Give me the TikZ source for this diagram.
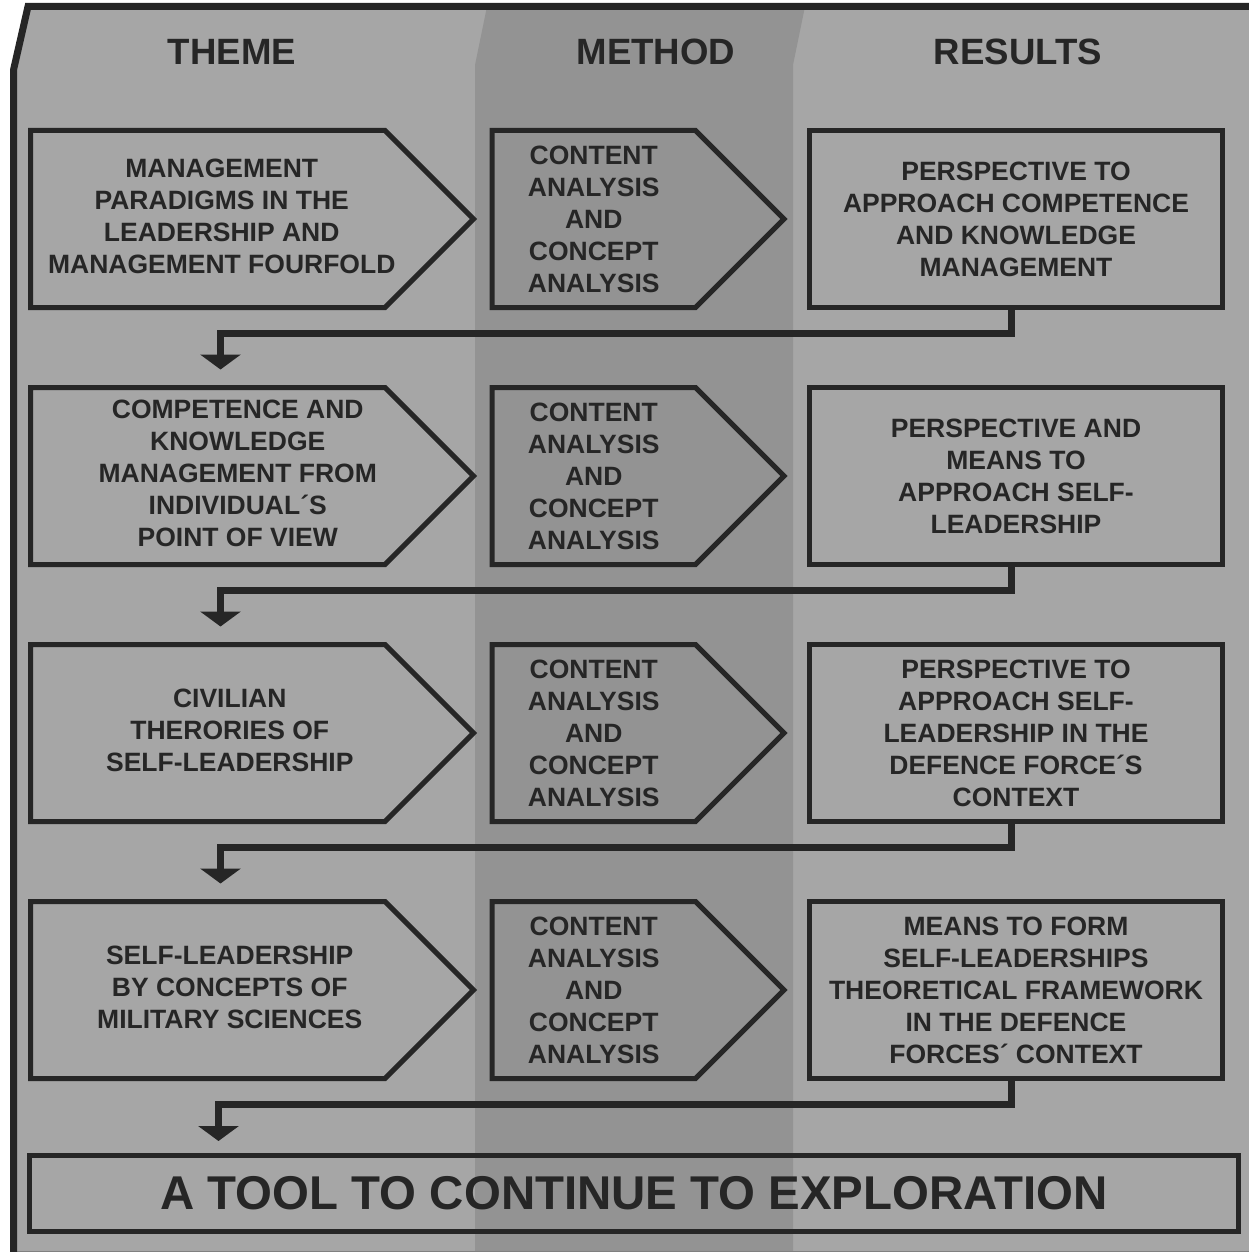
\documentclass[tikz,border=0pt]{standalone}
\usepackage{fontspec}
\setmainfont{Liberation Sans}
\usetikzlibrary{positioning,shapes.symbols,arrows.meta}

\definecolor{ink}{HTML}{262626}
\definecolor{pane}{HTML}{A6A6A6}
\definecolor{lane}{HTML}{939393}

% centred lines, pushed right by #1 (box width unchanged)
\newcommand{\shiftlines}[2]{\begin{tabular}{@{\hspace{#1}}c@{\hspace{-#1}}}#2\end{tabular}}

\tikzset{
    boxtext/.style={text=ink, font=\bfseries\fontsize{26.5}{32}\selectfont},
    themebox/.style={signal, signal to=east, signal pointer angle=90, draw=ink, line width=5pt,
        minimum width=443pt, minimum height=177pt, outer sep=0pt, boxtext},
    methodbox/.style={themebox, minimum width=292pt, align=center},
    resultbox/.style={rectangle, draw=ink, line width=5pt, minimum width=413pt,
        minimum height=177pt, outer sep=0pt, boxtext, align=center},
    finalbox/.style={rectangle, draw=ink, line width=5pt, minimum width=1209pt,
        minimum height=76pt, outer sep=0pt, text=ink, font=\bfseries\fontsize{47.4}{50}\selectfont},
    head/.style={text=ink, font=\bfseries\fontsize{36.6}{40}\selectfont},
    link/.style={draw=ink, line width=7pt, line join=miter, -{Triangle[width=40pt,length=15pt]}},
}

\begin{document}
\begin{tikzpicture}[x=1pt,y=-1pt]
    \useasboundingbox (0,0) rectangle (1249,1252);

    % panes
    \fill[pane] (13.5,1252) -- (13.5,70) -- (28,6.5) -- (1249,6.5) -- (1249,1252) -- cycle;
    \fill[lane] (487,6.5) -- (805,6.5) -- (793,65) -- (793,1252) -- (475,1252) -- (475,65) -- cycle;
    \draw[gray, line width=1pt] (13.5,1251) -- (1249,1251);
    \draw[ink, line width=7pt] (13.5,1252) -- (13.5,70) -- (28,6.5) -- (1249,6.5);

    \node[head] (h1) at (232,52) {THEME};
    \node[head] (h2) at (656,52) {METHOD};
    \node[head] (h3) at (1018,52) {RESULTS};

    % row 1
    \node[themebox, anchor=north west] (t1) at (30.5,130.5) {\shiftlines{14pt}{MANAGEMENT\\PARADIGMS IN THE\\LEADERSHIP AND\\MANAGEMENT FOURFOLD}};
    \node[methodbox, right=18.5pt of t1] (m1) {CONTENT\\ANALYSIS\\AND\\CONCEPT\\ANALYSIS};
    \node[resultbox, right=25.5pt of m1] (r1) {PERSPECTIVE TO\\APPROACH COMPETENCE\\AND KNOWLEDGE\\MANAGEMENT};

    % row 2
    \node[themebox, below=80pt of t1] (t2) {\shiftlines{30pt}{COMPETENCE AND\\KNOWLEDGE\\MANAGEMENT FROM\\INDIVIDUAL´S\\POINT OF VIEW}};
    \node[methodbox, right=18.5pt of t2] (m2) {CONTENT\\ANALYSIS\\AND\\CONCEPT\\ANALYSIS};
    \node[resultbox, right=25.5pt of m2] (r2) {PERSPECTIVE AND\\MEANS TO\\APPROACH SELF-\\LEADERSHIP};

    % row 3
    \node[themebox, below=80pt of t2] (t3) {\shiftlines{22pt}{CIVILIAN\\THERORIES OF\\SELF-LEADERSHIP}};
    \node[methodbox, right=18.5pt of t3] (m3) {CONTENT\\ANALYSIS\\AND\\CONCEPT\\ANALYSIS};
    \node[resultbox, right=25.5pt of m3] (r3) {PERSPECTIVE TO\\APPROACH SELF-\\LEADERSHIP IN THE\\DEFENCE FORCE´S\\CONTEXT};

    % row 4
    \node[themebox, below=80pt of t3] (t4) {\shiftlines{22pt}{SELF-LEADERSHIP\\BY CONCEPTS OF\\MILITARY SCIENCES}};
    \node[methodbox, right=18.5pt of t4] (m4) {CONTENT\\ANALYSIS\\AND\\CONCEPT\\ANALYSIS};
    \node[resultbox, right=25.5pt of m4] (r4) {MEANS TO FORM\\SELF-LEADERSHIPS\\THEORETICAL FRAMEWORK\\IN THE DEFENCE\\FORCES´ CONTEXT};

    \node[finalbox, anchor=north west] (end) at (29.5,1155) {A TOOL TO CONTINUE TO EXPLORATION};

    % links
    \draw[link] ([xshift=-5pt]r1.south) -- ++(0,-26pt) -| ([shift={(190pt,18pt)}]t2.north west);
    \draw[link] ([xshift=-5pt]r2.south) -- ++(0,-26pt) -| ([shift={(190pt,18pt)}]t3.north west);
    \draw[link] ([xshift=-5pt]r3.south) -- ++(0,-26pt) -| ([shift={(190pt,18pt)}]t4.north west);
    \draw[link] ([xshift=-5pt]r4.south) -- ++(0,-26pt) -| ([shift={(189pt,14pt)}]end.north west);
\end{tikzpicture}
\end{document}
